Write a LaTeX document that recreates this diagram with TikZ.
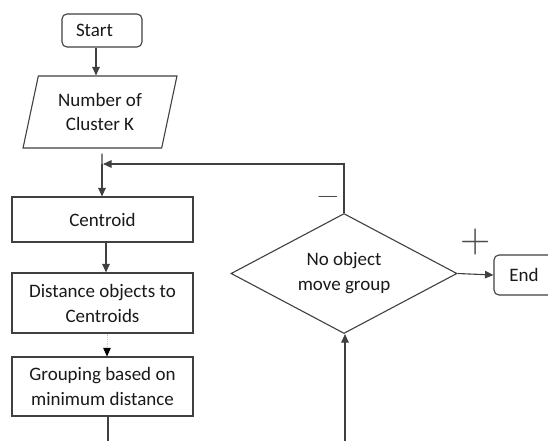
\documentclass[tikz,border=0pt]{standalone}
\usepackage{fontspec}
\setmainfont{Carlito}
\newfontfamily\lmfont{Latin Modern Roman}
\usetikzlibrary{shapes.geometric,arrows.meta}
\begin{document}
\begin{tikzpicture}[x=1pt,y=-1pt,
  line/.style={draw=black!75, line width=1.1pt},
  arr/.style={line, -{Triangle[length=8.5pt,width=7.5pt]}},
  faintarr/.style={draw=black!20, line width=0.8pt, densely dotted, -{Triangle[length=8.5pt,width=7.5pt,fill=black,color=black]}},
  boxstyle/.style={rectangle, draw=black!75, line width=1.1pt, minimum width=181pt, inner sep=0pt, align=center, text=black!90, font=\fontsize{19}{25}\selectfont},
  term/.style={boxstyle, rounded corners=5pt},
  sign/.style={inner sep=0pt, text=black!70}
]
\useasboundingbox (0,0) rectangle (548,441);
\clip (0,0) rectangle (548,441);
\fill[white] (0,0) rectangle (548,441);

\node[term, minimum width=80pt, minimum height=33pt] (start) at (102,30.5) {Start\hspace{15pt}};
\node[boxstyle, trapezium, trapezium left angle=74.5, trapezium right angle=105.5, trapezium stretches=true, minimum width=154pt, minimum height=72pt, font=\fontsize{19}{24}\selectfont] (pk) at (100,112) {Number of\\Cluster K};
\node[boxstyle, minimum height=45pt] (cen) at (102.5,219.5) {Centroid};
\node[boxstyle, minimum height=60pt] (dist) at (102.5,303) {Distance objects to\\Centroids};
\node[boxstyle, minimum height=59pt] (grp) at (102.5,386.5) {Grouping based on\\minimum distance};
\node[boxstyle, diamond, aspect=1.9, minimum width=226pt, minimum height=120pt] (dia) at (344,273.5) {No object\\move group};
\node[term, minimum width=68pt, minimum height=40pt] (end) at (528,275) {End\hspace{8pt}};

\coordinate (merge) at (102,164);
\coordinate (gout) at (108,450);
\coordinate (din) at (345,450);

\draw[arr] ([xshift=-6pt]start.south) -- ([xshift=-6pt]start.south |- pk.north);
\draw[line] ([xshift=2pt,yshift=-5pt]pk.south) -- (merge);
\draw[arr] (merge) -- (merge |- cen.north);
\draw[arr] (dia.north) -- (dia.north |- merge) -- ([xshift=1pt]merge);
\draw[arr] ([xshift=3.5pt]cen.south) -- ([xshift=3.5pt]cen.south |- dist.north);
\draw[faintarr] ([xshift=4.5pt]dist.south) -- ([xshift=4.5pt]dist.south |- grp.north);
\draw[line] ([xshift=5.5pt]grp.south) -- (gout);
\draw[arr] (din) -- (din |- dia.south);
\draw[arr] (dia.east) -- (end.west);

\node[sign, font=\lmfont\fontsize{42}{42}\selectfont] (plus) at (476,242) {+};
\node[sign, font=\lmfont\fontsize{30}{30}\selectfont] (minus) at (328,200) {−};
\end{tikzpicture}
\end{document}
